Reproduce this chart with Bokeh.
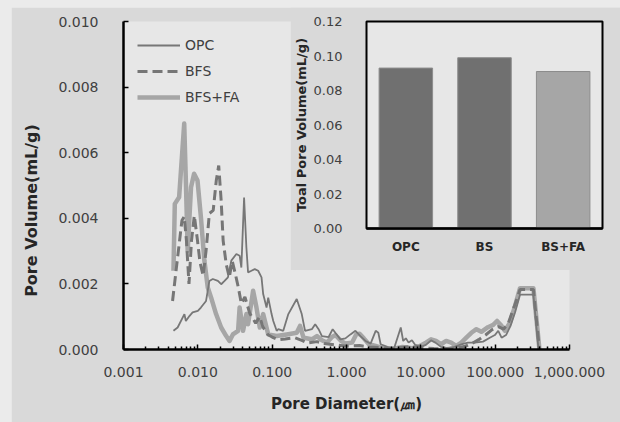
from bokeh.plotting import figure
from bokeh.models import (Range1d, FixedTicker, CustomJSTickFormatter, PrintfTickFormatter,
                          Legend, LegendItem, FactorRange, GridBox, BoxAnnotation, Label)
from bokeh.embed import file_html
from bokeh.resources import INLINE
import math

# ---------------- data ----------------
opc_d = [0.0047, 0.00535, 0.0066, 0.0069, 0.0077, 0.0085, 0.0100, 0.0110, 0.0129, 0.0143,
         0.0159, 0.0186, 0.0206, 0.0229, 0.0254, 0.0282, 0.0330, 0.0365, 0.0385, 0.0419,
         0.0450, 0.0474, 0.0526, 0.0583, 0.0648, 0.0719, 0.0757, 0.0840, 0.0885, 0.0982,
         0.1035, 0.115, 0.121, 0.141, 0.165, 0.214, 0.250, 0.277, 0.342, 0.379,
         0.421, 0.467, 0.575, 0.652, 0.708, 0.827, 0.966, 1.13, 1.32, 1.54,
         1.80, 2.11, 2.47, 2.68, 2.88, 3.55, 4.37, 5.0, 5.37, 5.79,
         6.29, 6.84, 7.59, 8.42, 10.0, 11.7, 13.7, 15.7, 18.7, 23.1,
         28.4, 35.0, 43.1, 53.1, 68.7, 84.7, 99.1, 110, 122, 140,
         161, 185, 216, 327, 383]
opc_v = [0.00057, 0.00067, 0.00108, 0.00087, 0.00102, 0.00113, 0.00118, 0.00128, 0.00148, 0.00209,
         0.00215, 0.00209, 0.00199, 0.00209, 0.00220, 0.00271, 0.00291, 0.00286, 0.00250, 0.00463,
         0.00311, 0.00235, 0.00240, 0.00245, 0.00240, 0.00220, 0.00169, 0.00128, 0.00158, 0.00108,
         0.00087, 0.00057, 0.00062, 0.00057, 0.00108, 0.00154, 0.00108, 0.00057, 0.00062, 0.00077,
         0.00062, 0.00041, 0.00038, 0.00062, 0.00051, 0.00031, 0.00034, 0.00046, 0.00057, 0.00041,
         0.00026, 0.00018, 0.00057, 0.00051, 0.00016, 0.00008, 0.00004, 0.00045, 0.00067, 0.00026,
         0.00034, 0.00021, 0.00028, 0.00014, 0.00008, 0.00014, 0.00028, 0.00021, 0.00008, 0.00004,
         0.00008, 0.00016, 0.00021, 0.00021, 0.00024, 0.00036, 0.00044, 0.00057, 0.00036, 0.00044,
         0.00072, 0.00113, 0.00167, 0.00167, 0.0]

bfs_d = [0.00457, 0.00522, 0.00611, 0.00656, 0.00703, 0.0076, 0.00822, 0.00897, 0.0099, 0.0107,
         0.0118, 0.0129, 0.0143, 0.0161, 0.0177, 0.0191, 0.0206, 0.0219, 0.0241, 0.0265,
         0.0290, 0.0320, 0.0350, 0.0385, 0.0430, 0.0500, 0.0600, 0.0680, 0.0750, 0.0880,
         0.100, 0.120, 0.150, 0.200, 0.250, 0.300, 0.400, 0.500, 0.700, 1.00,
         1.50, 2.00, 3.00, 4.00, 5.00, 7.00, 10.0, 15.0, 20.0, 30.0,
         40.0, 50.0, 60.0, 75.0, 90.0, 110, 130, 150, 180, 216,
         327, 394]
bfs_v = [0.00148, 0.00261, 0.00393, 0.00405, 0.00332, 0.00200, 0.00332, 0.00408, 0.00332, 0.00265,
         0.00225, 0.00301, 0.00415, 0.00424, 0.00515, 0.00561, 0.00454, 0.00332, 0.00260, 0.00220,
         0.00270, 0.00230, 0.00190, 0.00140, 0.00160, 0.00110, 0.00080, 0.00100, 0.00069, 0.00045,
         0.00038, 0.00030, 0.00032, 0.00036, 0.00028, 0.00020, 0.00024, 0.00018, 0.00014, 0.00010,
         0.00012, 0.00008, 0.00005, 0.00003, 0.00005, 0.00009, 0.00005, 0.00003, 0.00002, 0.00005,
         0.00010, 0.00020, 0.00030, 0.00045, 0.00060, 0.00070, 0.00062, 0.00080, 0.00130, 0.00183,
         0.00183, 0.0]

bfsfa_d = [0.0047, 0.0049, 0.0056, 0.00656, 0.00692, 0.0073, 0.0081, 0.0089, 0.0099, 0.0110,
           0.01225, 0.0136, 0.0151, 0.0176, 0.0206, 0.0241, 0.0267, 0.0296, 0.0348, 0.0365,
           0.0406, 0.0450, 0.0474, 0.0554, 0.0615, 0.0682, 0.0757, 0.0885, 0.115, 0.157,
           0.214, 0.237, 0.264, 0.342, 0.400, 0.467, 0.546, 0.638, 0.708, 0.827,
           0.966, 1.19, 1.35, 1.50, 1.71, 2.00, 2.47, 3.04, 3.74, 4.60,
           5.66, 7.74, 9.55, 11.7, 13.7, 16.0, 18.7, 21.9, 25.6, 29.9,
           35.0, 40.9, 47.8, 55.9, 65.2, 80.0, 94.0, 106, 122, 135,
           158, 185, 216, 327, 394]
bfsfa_v = [0.00240, 0.00444, 0.00464, 0.00689, 0.00505, 0.00301, 0.00495, 0.00536, 0.00515, 0.00403,
           0.00271, 0.00189, 0.00158, 0.00108, 0.00067, 0.00041, 0.00026, 0.00046, 0.00057, 0.00128,
           0.00057, 0.00108, 0.00077, 0.00179, 0.00128, 0.00067, 0.00108, 0.00046, 0.00041, 0.00046,
           0.00051, 0.00072, 0.00036, 0.00031, 0.00041, 0.00028, 0.00021, 0.00038, 0.00044, 0.00028,
           0.00018, 0.00021, 0.00046, 0.00048, 0.00034, 0.00016, 0.00011, 0.00004, 0.00000, 0.00004,
           0.00008, 0.00004, 0.00010, 0.00021, 0.00031, 0.00026, 0.00016, 0.00026, 0.00021, 0.00011,
           0.00021, 0.00036, 0.00051, 0.00062, 0.00054, 0.00068, 0.00075, 0.00087, 0.00072, 0.00057,
           0.00082, 0.00133, 0.00187, 0.00187, 0.0]

series_names = ["OPC", "BFS", "BFS+FA"]

x_ticks = [0.001, 0.01, 0.1, 1, 10, 100, 1000]
y_ticks = [0.0, 0.002, 0.004, 0.006, 0.008, 0.010]

bar_cats = ["OPC", "BS", "BS+FA"]
bar_vals = [0.093, 0.099, 0.091]
bar_y_ticks = [0.0, 0.02, 0.04, 0.06, 0.08, 0.10, 0.12]

# ---------------- styles ----------------
FONT = "DejaVu Sans"
OUTER = "#d9d9d9"
PLOT_BG = "#e7e7e7"
PAGE_BG = "#ebebeb"
TICK_COL = "#404040"

# ---------------- main chart ----------------
p = figure(width=609, height=415, x_axis_type="log",
           x_range=Range1d(0.001, 1000), y_range=Range1d(0, 0.010),
           output_backend="svg", toolbar_location=None,
           min_border_left=112, min_border_right=51, min_border_top=14, min_border_bottom=73)
p.frame_align = False
p.margin = (7, 0, 0, 11)
p.background_fill_color = OUTER
p.border_fill_color = OUTER
p.outline_line_color = None
p.xgrid.visible = False
p.ygrid.visible = False
p.add_layout(BoxAnnotation(fill_color=PLOT_BG, fill_alpha=1, line_color=None, level="underlay"))

r_fa = p.line(bfsfa_d, bfsfa_v, line_color="#a6a6a6", line_width=4.5, line_join="round")
r_bfs = p.line(bfs_d, bfs_v, line_color="#767676", line_width=3, line_dash="10 5")
r_opc = p.line(opc_d, opc_v, line_color="#777777", line_width=1.8)

minor = []
for dec in x_ticks[:-1]:
    for k in range(2, 10):
        minor.append(dec * k)

xa = p.xaxis[0]
xa.ticker = FixedTicker(ticks=x_ticks, minor_ticks=minor)
xa.formatter = CustomJSTickFormatter(code="""
const s = tick.toFixed(3);
const parts = s.split('.');
parts[0] = parts[0].replace(/\\B(?=(\\d{3})+(?!\\d))/g, ',');
return parts.join('.');
""")
xa.axis_line_color = "black"
xa.axis_line_width = 2.5
xa.major_tick_in = 5
xa.major_tick_out = 0
xa.minor_tick_in = 3
xa.minor_tick_out = 0
xa.major_tick_line_color = "black"
xa.major_tick_line_width = 1.5
xa.minor_tick_line_color = "black"
xa.minor_tick_line_width = 1.5
xa.major_label_text_font = FONT
xa.major_label_text_font_size = "14px"
xa.major_label_text_color = TICK_COL
xa.major_label_standoff = 17
xa.axis_label = "Pore Diameter(\u339b)"
xa.axis_label_text_font = FONT
xa.axis_label_text_font_style = "bold"
xa.axis_label_text_font_size = "15px"
xa.axis_label_text_color = "#262626"
xa.axis_label_standoff = 15

ya = p.yaxis[0]
ya.ticker = FixedTicker(ticks=y_ticks)
ya.formatter = PrintfTickFormatter(format="%.3f")
ya.axis_line_color = "black"
ya.axis_line_width = 2.5
ya.major_tick_in = 5
ya.major_tick_out = 0
ya.minor_tick_line_color = None
ya.major_tick_line_color = "black"
ya.major_tick_line_width = 1.5
ya.major_label_text_font = FONT
ya.major_label_text_font_size = "14px"
ya.major_label_text_color = TICK_COL
ya.major_label_standoff = 25

legend = Legend(items=[LegendItem(label=series_names[0], renderers=[r_opc]),
                       LegendItem(label=series_names[1], renderers=[r_bfs]),
                       LegendItem(label=series_names[2], renderers=[r_fa])],
                location="top_left")
legend.background_fill_alpha = 0
legend.border_line_color = None
legend.glyph_width = 43
legend.glyph_height = 20
legend.label_height = 20
legend.spacing = 6
legend.label_standoff = 5
legend.margin = 14
legend.padding = 3
legend.label_text_font = FONT
legend.label_text_font_size = "14px"
legend.label_text_color = TICK_COL
p.add_layout(legend)

# ---------------- y-axis title (transparent overlay, lower than frame centre as in reference) ----------------
t = figure(width=40, height=200, x_range=Range1d(0, 1), y_range=Range1d(0, 1),
           x_axis_location=None, y_axis_location=None,
           output_backend="svg", toolbar_location=None, min_border=0)
t.frame_align = False
t.margin = (110, 0, 0, 11)
t.border_fill_color = None
t.background_fill_color = None
t.outline_line_color = None
t.grid.visible = False
t.add_layout(Label(x=20, y=100, x_units="screen", y_units="screen",
                   text="Pore Volume(mL/g)", angle=math.pi / 2,
                   text_align="center", text_baseline="middle",
                   text_font=FONT, text_font_style="bold", text_font_size="16px",
                   text_color="#262626"))

# ---------------- inset bar chart ----------------
q = figure(width=330, height=263, x_range=FactorRange(*bar_cats), y_range=Range1d(0, 0.12),
           output_backend="svg", toolbar_location=None,
           min_border_left=74, min_border_right=18, min_border_top=14, min_border_bottom=42)
q.frame_align = False
q.margin = (7, 0, 0, 290)
q.background_fill_color = PLOT_BG
q.border_fill_color = OUTER
q.outline_line_color = "black"
q.outline_line_width = 2
q.xgrid.visible = False
q.ygrid.visible = False

q.vbar(x=bar_cats, top=bar_vals, width=0.68,
       fill_color=["#707070", "#707070", "#a6a6a6"], line_color="#8c8c8c", line_width=1)

qy = q.yaxis[0]
qy.ticker = FixedTicker(ticks=bar_y_ticks)
qy.formatter = PrintfTickFormatter(format="%.2f")
qy.axis_line_color = None
qy.major_tick_line_color = None
qy.minor_tick_line_color = None
qy.major_label_text_font = FONT
qy.major_label_text_font_size = "13px"
qy.major_label_text_color = TICK_COL
qy.major_label_standoff = 18
qy.axis_label = "Toal Pore Volume(mL/g)"
qy.axis_label_text_font = FONT
qy.axis_label_text_font_style = "bold"
qy.axis_label_text_font_size = "13px"
qy.axis_label_text_color = "#262626"
qy.axis_label_standoff = 2

qx = q.xaxis[0]
qx.axis_line_color = "black"
qx.axis_line_width = 2.5
qx.major_tick_line_color = None
qx.minor_tick_line_color = None
qx.major_label_text_font = FONT
qx.major_label_text_font_style = "bold"
qx.major_label_text_font_size = "12px"
qx.major_label_text_color = "#262626"
qx.major_label_standoff = 5

layout = GridBox(children=[(p, 0, 0), (t, 0, 0), (q, 0, 0)], styles={"background-color": PAGE_BG})

open("out.html", "w").write(file_html(layout, INLINE))
